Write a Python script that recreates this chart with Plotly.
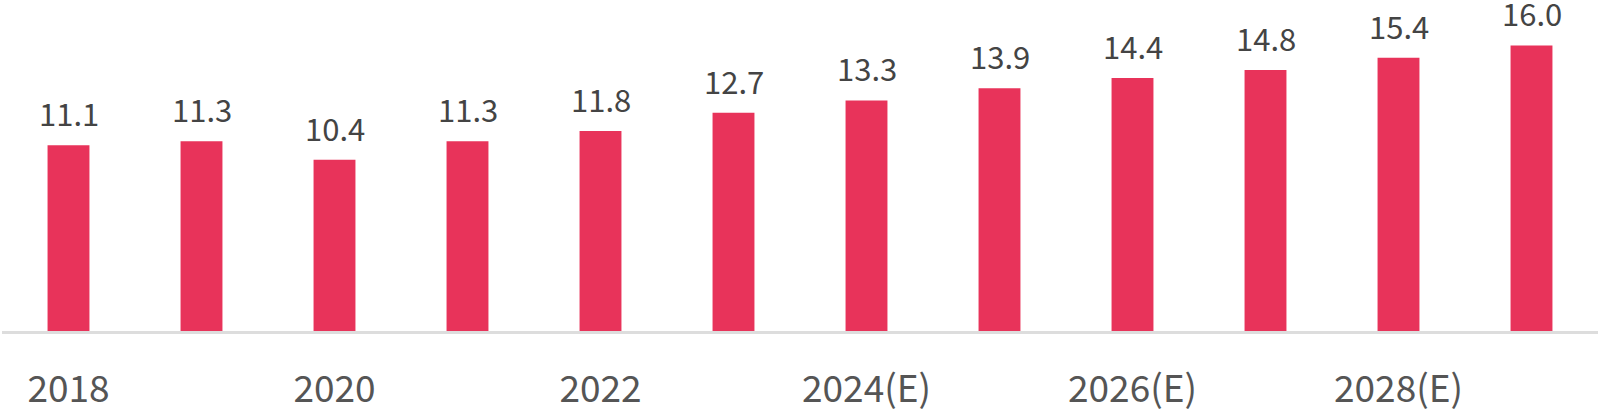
import plotly.graph_objects as go

categories = ["2018", "2019", "2020", "2021", "2022", "2023",
              "2024(E)", "2025(E)", "2026(E)", "2027(E)", "2028(E)", "2029(E)"]
values = [11.1, 11.3, 10.4, 11.3, 11.8, 12.7, 13.3, 13.9, 14.4, 14.8, 15.4, 16.0]
tick_labels = ["2018", "2020", "2022", "2024(E)", "2026(E)", "2028(E)"]

FONT = "Noto Sans CJK KR"

fig = go.Figure(go.Bar(
    x=categories,
    y=values,
    marker=dict(color="#E8335A", line=dict(width=0)),
    cliponaxis=False,
    hoverinfo="x+y",
))

for i, v in enumerate(values):
    fig.add_annotation(
        x=i, y=v, text=f"{v:.1f}", showarrow=False,
        xanchor="center", yanchor="bottom", yshift=8,
        font=dict(family=FONT, size=31, color="#444444"),
    )

fig.update_layout(
    template="none",
    width=1600, height=412,
    margin=dict(l=2, r=2, t=0, b=81, pad=0),
    paper_bgcolor="white", plot_bgcolor="white",
    bargap=0.685,
    showlegend=False,
    font=dict(family=FONT),
)
fig.update_xaxes(
    type="category", automargin=False,
    categoryorder="array", categoryarray=categories,
    range=[-0.5, len(categories) - 0.5],
    tickmode="array", tickvals=tick_labels, ticktext=tick_labels,
    tickfont=dict(family=FONT, size=37, color="#555555"),
    showline=True, linecolor="#DDDDDD", linewidth=3,
    showgrid=False, zeroline=False, ticks="", ticklabelstandoff=24,
)
fig.update_yaxes(
    range=[2, 2 + 331 / 20.4], automargin=False,
    visible=False, showgrid=False, zeroline=False,
)

fig.write_html(
    "out.html",
    config={"displayModeBar": False},
    post_script="document.body.style.margin='0';document.body.style.overflow='hidden';",
)
